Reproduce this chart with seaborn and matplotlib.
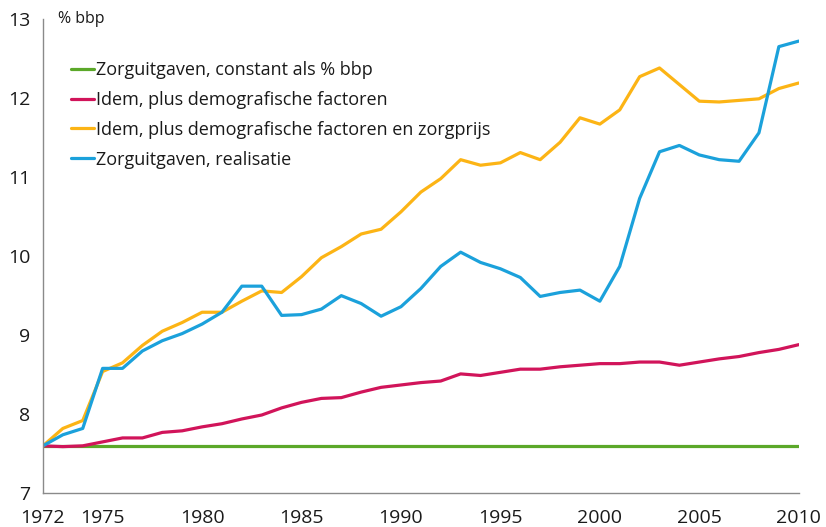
import pandas as pd
import matplotlib.pyplot as plt
import seaborn as sns

years = list(range(1972, 2011))

constant = [7.6] * len(years)
demografie = [7.60, 7.59, 7.60, 7.65, 7.70, 7.70, 7.77, 7.79, 7.84, 7.88,
              7.94, 7.99, 8.08, 8.15, 8.20, 8.21, 8.28, 8.34, 8.37, 8.40,
              8.42, 8.51, 8.49, 8.53, 8.57, 8.57, 8.60, 8.62, 8.64, 8.64,
              8.66, 8.66, 8.62, 8.66, 8.70, 8.73, 8.78, 8.82, 8.88]
zorgprijs = [7.60, 7.82, 7.92, 8.54, 8.65, 8.87, 9.05, 9.16, 9.29, 9.29,
             9.43, 9.56, 9.54, 9.74, 9.98, 10.12, 10.28, 10.34, 10.56, 10.81,
             10.98, 11.22, 11.15, 11.18, 11.31, 11.22, 11.44, 11.75, 11.67, 11.85,
             12.27, 12.38, 12.17, 11.96, 11.95, 11.97, 11.99, 12.12, 12.19]
realisatie = [7.60, 7.74, 7.82, 8.58, 8.58, 8.80, 8.93, 9.02, 9.14, 9.29,
              9.62, 9.62, 9.25, 9.26, 9.33, 9.50, 9.40, 9.24, 9.36, 9.59,
              9.87, 10.05, 9.92, 9.84, 9.73, 9.49, 9.54, 9.57, 9.43, 9.87,
              10.73, 11.32, 11.40, 11.28, 11.22, 11.20, 11.56, 12.65, 12.72]

labels = ["Zorguitgaven, constant als % bbp",
          "Idem, plus demografische factoren",
          "Idem, plus demografische factoren en zorgprijs",
          "Zorguitgaven, realisatie"]
colors = ["#5BA829", "#D1145A", "#FCB415", "#1BA1DB"]

xtick_years = [1972, 1975, 1980, 1985, 1990, 1995, 2000, 2005, 2010]

df = pd.concat([
    pd.DataFrame({"jaar": years, "waarde": vals, "reeks": lab})
    for vals, lab in zip([constant, demografie, zorgprijs, realisatie], labels)
])

sns.set_style("white")
plt.rcParams["font.family"] = ["Open Sans", "DejaVu Sans"]

fig = plt.figure(figsize=(8.26, 5.27), dpi=100)
ax = fig.add_axes([0.052, 0.064, 0.915, 0.9])

sns.lineplot(data=df, x="jaar", y="waarde", hue="reeks", hue_order=labels,
             palette=colors, linewidth=2.3, ax=ax)

ax.set_xlim(1972, 2010)
ax.set_ylim(7, 13)
ax.set_xlabel("")
ax.set_ylabel("")

ax.set_xticks(years)
ax.set_xticklabels([str(y) if y in xtick_years else "" for y in years])
ax.set_yticks(range(7, 14))

for side in ["top", "right"]:
    ax.spines[side].set_visible(False)
for side in ["left", "bottom"]:
    ax.spines[side].set_color("#8a8a8a")
    ax.spines[side].set_linewidth(1)
ax.tick_params(axis="both", direction="out", length=5, width=1,
               color="#8a8a8a", labelsize=14, labelcolor="#1a1a1a", pad=4)
ax.tick_params(axis="x", pad=6)

ax.text(0.02, 1.0, "% bbp", transform=ax.transAxes, fontsize=11.5,
        color="#1a1a1a", va="center", ha="left")

leg = ax.legend(loc="upper left", bbox_to_anchor=(0.027, 0.926), frameon=False,
                fontsize=13, handlelength=1.3, handletextpad=0.1,
                labelspacing=0.65, borderaxespad=0)
for t in leg.get_texts():
    t.set_color("#1a1a1a")

fig.savefig("out.png", dpi=100)
